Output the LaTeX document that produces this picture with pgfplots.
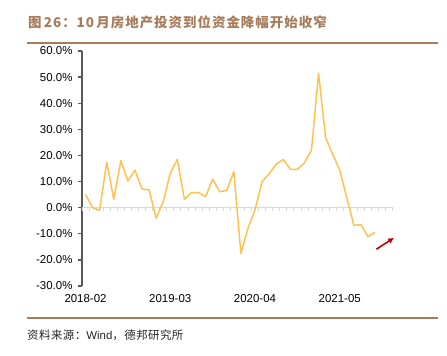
\documentclass[border=0pt]{standalone}
\usepackage{pgfplots}
\pgfplotsset{compat=1.18}
\usetikzlibrary{arrows.meta}
\usepackage{fontspec}
\setmainfont{Liberation Sans}
\newfontfamily\cjk{Noto Sans CJK SC}
\newfontfamily\cjktitle[LetterSpace=7.5]{Noto Sans CJK SC}
\newfontfamily\cjksrc[LetterSpace=4]{Noto Sans CJK SC}
\definecolor{brownt}{RGB}{166,124,91}
\definecolor{lineor}{RGB}{255,193,80}
\definecolor{arrowred}{RGB}{192,0,0}
\definecolor{axgrey}{RGB}{89,89,89}
\definecolor{zerogrey}{RGB}{217,217,217}
\begin{document}
\begin{tikzpicture}
\useasboundingbox (0bp,0bp) rectangle (447bp,-356bp);
% title
\node[anchor=west,inner sep=0pt,text=brownt] at (28bp,-22.5bp) {\fontsize{13.5}{15}\selectfont\cjktitle\bfseries 图\,26：10\,月房地产投资到位资金降幅开始收窄};
\draw[brownt,line width=1.7bp] (27bp,-43bp) -- (438bp,-43bp);
\draw[brownt,line width=1.7bp] (27bp,-318bp) -- (438bp,-318bp);
\node[anchor=west,inner sep=0pt,text=black!85] at (27bp,-335bp) {\fontsize{11.5}{13}\selectfont\cjksrc 资料来源：{\fontspec{Liberation Sans}Wind}，德邦研究所};
\begin{axis}[
  at={(82bp,-286bp)}, anchor=south west,
  scale only axis, width=310.7bp, height=235bp,
  xmin=-0.5, xmax=43.5, ymin=-30, ymax=60,
  axis y line*=left, axis x line*=bottom,
  x axis line style={draw=none},
  y axis line style={draw=axgrey,line width=1.3bp,-},
  ytick={-30,-20,...,60},
  yticklabel={\pgfmathprintnumber[fixed,fixed zerofill,precision=1]{\tick}\%},
  xtick={0,12,24,36},
  xticklabels={2018-02,2019-03,2020-04,2021-05},
  x tick style={draw=none},
  y tick style={draw=axgrey,line width=1.3bp},
  tick align=outside, major tick length=4bp,
  /pgf/number format/assume math mode=true,
  tick label style={font=\fontsize{11.5}{13}\selectfont, text=black},
  yticklabel style={xshift=-2bp},
  xticklabel style={yshift=-1bp},
  clip=false,
]
\draw[zerogrey,line width=1bp] (axis cs:-0.5,0) -- (axis cs:43.5,0);
\pgfplotsinvokeforeach{-0.5,0.5,...,43.5}{
  \draw[zerogrey,line width=0.8bp] (axis cs:#1,0) -- ++(0bp,-3bp);
}
\addplot[lineor, line width=1.5bp, line join=round, no marks] coordinates {
(0,5.1) (1,0) (2,-1) (3,17.5) (4,3.2) (5,18) (6,10.2) (7,14.4) (8,7.2) (9,6.8)
(10,-4) (11,2.3) (12,13.2) (13,18.5) (14,3.2) (15,5.8) (16,5.8) (17,4.2) (18,10.9) (19,6.1)
(20,6.6) (21,13.8) (22,-17.5) (23,-7.9) (24,-0.9) (25,10) (26,13) (27,16.6) (28,18.5) (29,14.7)
(30,14.7) (31,17.2) (32,22.1) (33,51.5) (34,26.8) (35,20.5) (36,14.4) (37,3.8) (38,-6.8) (39,-6.5)
(40,-11.1) (41,-9.4)
};
\draw[arrowred, line width=1.6bp, -{Latex[length=6bp,width=6bp]}] (axis cs:41.2,-15.9) -- (axis cs:43.7,-11.5);
\end{axis}
\end{tikzpicture}
\end{document}
